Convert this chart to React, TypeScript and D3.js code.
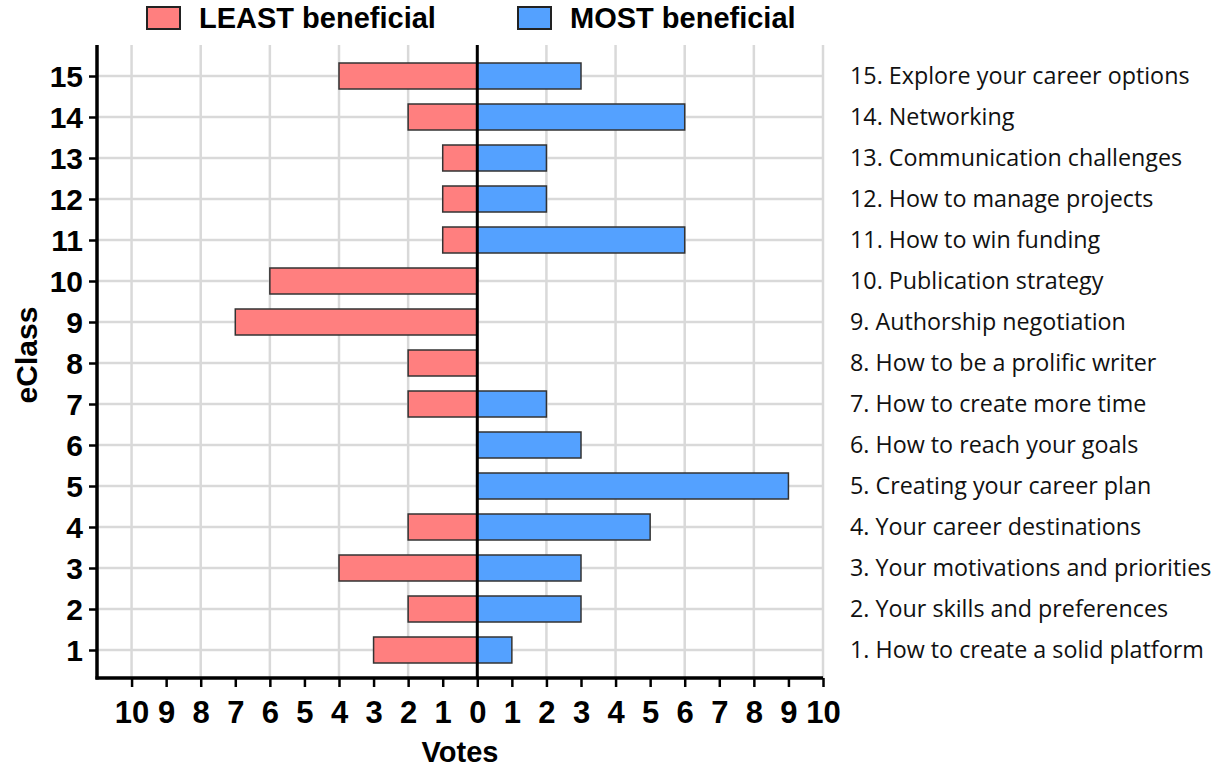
import * as d3 from "d3";
import { useEffect, useRef } from "react";

const eclasses = [15, 14, 13, 12, 11, 10, 9, 8, 7, 6, 5, 4, 3, 2, 1];
const leastVotes = [4, 2, 1, 1, 1, 6, 7, 2, 2, 0, 0, 2, 4, 2, 3];
const mostVotes = [3, 6, 2, 2, 6, 0, 0, 0, 2, 3, 9, 5, 3, 3, 1];
const topicNames = [
  "15. Explore your career options",
  "14. Networking",
  "13. Communication challenges",
  "12. How to manage projects",
  "11. How to win funding",
  "10. Publication strategy",
  "9. Authorship negotiation",
  "8. How to be a prolific writer",
  "7. How to create more time",
  "6. How to reach your goals",
  "5. Creating your career plan",
  "4. Your career destinations",
  "3. Your motivations and priorities",
  "2. Your skills and preferences",
  "1. How to create a solid platform",
];
const xTicks = d3.range(-10, 11);
const gridTicks = d3.range(-10, 11, 2);

const W = 1222;
const H = 767;
const boldFont = "'Liberation Sans', Arial, sans-serif";
const labelFont = "'Open Sans', 'Noto Sans', sans-serif";
const RED = "#ff7f7f";
const BLUE = "#54a1ff";

export default function App() {
  const svgRef = useRef<SVGSVGElement>(null);

  useEffect(() => {
    const svg = d3.select(svgRef.current);
    svg.selectAll("*").remove();

    const x = d3.scaleLinear().domain([-11, 10]).range([97, 823]);
    const y = d3.scaleLinear().domain([1 - 28 / 41, 15 + 31 / 41]).range([678, 45]);
    const barH = 26;

    // grid
    const grid = svg.append("g").attr("stroke", "#d9d9d9").attr("stroke-width", 2.5);
    grid
      .selectAll("line.v")
      .data(gridTicks)
      .join("line")
      .attr("x1", (d) => x(d))
      .attr("x2", (d) => x(d))
      .attr("y1", y.range()[1])
      .attr("y2", y.range()[0]);
    grid
      .selectAll("line.h")
      .data(eclasses)
      .join("line")
      .attr("class", "h")
      .attr("x1", x.range()[0])
      .attr("x2", x.range()[1])
      .attr("y1", (d) => y(d))
      .attr("y2", (d) => y(d));

    const rows = eclasses.map((c, i) => ({ c, least: leastVotes[i], most: mostVotes[i] }));

    svg
      .append("g")
      .selectAll("rect")
      .data(rows.filter((r) => r.least > 0))
      .join("rect")
      .attr("x", (d) => x(-d.least))
      .attr("width", (d) => x(0) - x(-d.least))
      .attr("y", (d) => y(d.c) - barH / 2)
      .attr("height", barH)
      .attr("fill", RED)
      .attr("stroke", "#333")
      .attr("stroke-width", 1.5);

    svg
      .append("g")
      .selectAll("rect")
      .data(rows.filter((r) => r.most > 0))
      .join("rect")
      .attr("x", x(0))
      .attr("width", (d) => x(d.most) - x(0))
      .attr("y", (d) => y(d.c) - barH / 2)
      .attr("height", barH)
      .attr("fill", BLUE)
      .attr("stroke", "#333")
      .attr("stroke-width", 1.5);

    // zero line
    svg
      .append("line")
      .attr("x1", x(0))
      .attr("x2", x(0))
      .attr("y1", y.range()[1])
      .attr("y2", y.range()[0])
      .attr("stroke", "#000")
      .attr("stroke-width", 3);

    // y axis
    const yAxis = svg
      .append("g")
      .attr("transform", `translate(${x.range()[0]},0)`)
      .call(
        d3
          .axisLeft(y)
          .tickValues(eclasses)
          .tickFormat(d3.format("d"))
          .tickSize(8)
          .tickPadding(6)
      );
    yAxis.select(".domain").attr("stroke-width", 3.5).attr("d", `M0,${y.range()[1]}V${y.range()[0] + 1.5}`);
    yAxis.selectAll(".tick line").attr("stroke-width", 2.5);
    yAxis
      .selectAll(".tick text")
      .attr("font-family", boldFont)
      .attr("font-weight", "bold")
      .attr("font-size", 30)
      .attr("dy", "0.35em")
      .attr("fill", "#000");

    // x axis
    const xAxis = svg
      .append("g")
      .attr("transform", `translate(0,${y.range()[0]})`)
      .call(
        d3
          .axisBottom(x)
          .tickValues(xTicks)
          .tickFormat((d) => String(Math.abs(+d)))
          .tickSize(9)
          .tickPadding(14)
      );
    xAxis.select(".domain").attr("stroke-width", 3.5).attr("d", `M${x.range()[0] - 1.5},0H${x.range()[1]}`);
    xAxis.selectAll(".tick line").attr("stroke-width", 2.5);
    xAxis
      .selectAll(".tick text")
      .attr("font-family", boldFont)
      .attr("font-weight", "bold")
      .attr("font-size", 31)
      .attr("fill", "#000");

    // axis titles
    svg
      .append("text")
      .attr("x", 460)
      .attr("y", 762)
      .attr("text-anchor", "middle")
      .attr("font-family", boldFont)
      .attr("font-weight", "bold")
      .attr("font-size", 29)
      .text("Votes");
    svg
      .append("text")
      .attr("transform", `translate(37,355) rotate(-90)`)
      .attr("text-anchor", "middle")
      .attr("font-family", boldFont)
      .attr("font-weight", "bold")
      .attr("font-size", 30)
      .text("eClass");

    // right-hand topic labels
    svg
      .append("g")
      .selectAll("text")
      .data(rows)
      .join("text")
      .attr("x", 850)
      .attr("y", (d) => y(d.c))
      .attr("dy", "0.36em")
      .attr("font-family", labelFont)
      .attr("font-size", 23.3)
      .attr("fill", "#111")
      .text((d, i) => topicNames[i]);

    // legend
    const legend = [
      { label: "LEAST beneficial", color: RED, x: 147 },
      { label: "MOST beneficial", color: BLUE, x: 518 },
    ];
    const lg = svg.append("g").selectAll("g").data(legend).join("g").attr("transform", (d) => `translate(${d.x},0)`);
    lg.append("rect")
      .attr("x", 0)
      .attr("y", 7)
      .attr("width", 33)
      .attr("height", 22)
      .attr("fill", (d) => d.color)
      .attr("stroke", "#222")
      .attr("stroke-width", 2);
    lg.append("text")
      .attr("x", 52)
      .attr("y", 28)
      .attr("font-family", boldFont)
      .attr("font-weight", "bold")
      .attr("font-size", 29)
      .text((d) => d.label);
  }, []);

  return (
    <svg
      ref={svgRef}
      width={W}
      height={H}
      style={{ position: "absolute", left: 0, top: 0, background: "#fff" }}
    />
  );
}
